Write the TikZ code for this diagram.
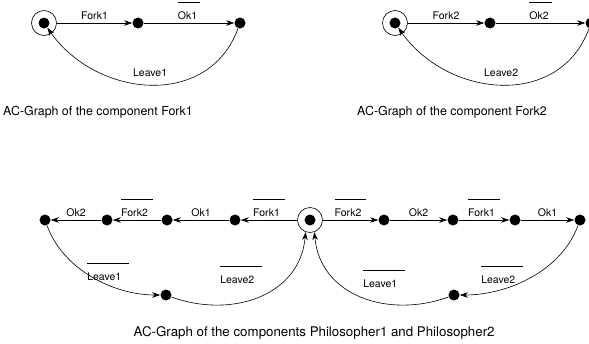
\documentclass[tikz,border=0pt]{standalone}
\usepackage{fontspec}
\setmainfont{TeX Gyre Heros}
\usetikzlibrary{arrows.meta, positioning}
\tikzset{
  >={Stealth[length=8pt,width=5.5pt,inset=2.5pt]}, % arrow heads
  dot/.style={circle, fill, inner sep=0pt, minimum size=11pt}, % a state
  ring/.style={circle, draw, inner sep=0pt, minimum size=25pt}, % marks the
  % initial state
  lbl/.style={font=\fontsize{10.5}{12}\selectfont, inner sep=3.5pt},
  caption/.style={font=\fontsize{12.4}{14}\selectfont, anchor=base},
}
% overlined action name
\newcommand{\dual}[2][5pt]{\setbox0=\hbox{#2}\vbox{\hrule height .6pt width
    \dimexpr\wd0+#1\relax\kern8.5pt\box0}}

\begin{document}
\begin{tikzpicture}[x=1pt,y=-1pt,line width=.6pt]
  \useasboundingbox (0,0) rectangle (589,343);

  % component Fork1
  \node[dot] (fa) at (44,23) {};
  \node[ring] (far) at (fa) {};
  \node[dot] (fb) at (138,23) {};
  \node[dot] (fc) at (240,23) {};
  \draw[->]
  (far) edge node[lbl, above] {Fork1} (fb)
  (fb) edge node[lbl, above] {\dual[3pt]{Ok1}} (fc)
  (fc) edge[out=-110, in=-55, looseness=1.15] node[lbl, above=4pt] {Leave1} (fa)
  ;
  \node[caption] (capa) at (98,115) {AC-Graph of the component Fork1};

  % component Fork2
  \node[dot] (ga) at (395,23) {};
  \node[ring] (gar) at (ga) {};
  \node[dot] (gb) at (490,23) {};
  \node[dot] (gc) at (591,23) {};
  \draw[->]
  (gar) edge node[lbl, above] {Fork2} (gb)
  (gb) edge node[lbl, above] {\dual[3pt]{Ok2}} (gc)
  (gc) edge[out=-110, in=-55, looseness=1.15] node[lbl, above=4pt] {Leave2} (ga)
  ;
  \node[caption] (capb) at (452,115) {AC-Graph of the component Fork2};

  % components Philosopher1 and Philosopher2
  \node[dot] (c) at (310,220) {};
  \node[ring] (cr) at (c) {};
  \node[dot] (l1) at (235,220) {};
  \node[dot] (l2) at (167,220) {};
  \node[dot] (l3) at (107,220) {};
  \node[dot] (l4) at (45,220) {};
  \node[dot] (lb) at (166,295) {};
  \node[dot] (r1) at (384,220) {};
  \node[dot] (r2) at (453,220) {};
  \node[dot] (r3) at (515,220) {};
  \node[dot] (r4) at (580,220) {};
  \node[dot] (rb) at (454,295) {};

  \draw[->]
  (cr) edge node[lbl, above] {\dual{Fork1}} (l1)
  (l1) edge node[lbl, above] {Ok1} (l2)
  (l2) edge node[lbl, above] {\dual{Fork2}} (l3)
  (l3) edge node[lbl, above] {Ok2} (l4)
  (l4) edge[out=-70, in=180, looseness=.9] (lb)
  (lb) edge[out=-20, in=-95, looseness=1.1] (cr.-110)
  (cr) edge node[lbl, above] {\dual{Fork2}} (r1)
  (r1) edge node[lbl, above] {Ok2} (r2)
  (r2) edge node[lbl, above] {\dual{Fork1}} (r3)
  (r3) edge node[lbl, above] {Ok1} (r4)
  (r4) edge[out=-110, in=0, looseness=.9] (rb)
  (rb) edge[out=200, in=-85, looseness=1.1] (cr.-70)
  ;
  \node[lbl, anchor=base west, inner sep=0pt] (lvl) at (87,280) {\dual[8pt]{Leave1}};
  \node[lbl, anchor=base west, inner sep=0pt] (lvm) at (220,283) {\dual[8pt]{Leave2}};
  \node[lbl, anchor=base west, inner sep=0pt] (lvn) at (363,287) {\dual[8pt]{Leave1}};
  \node[lbl, anchor=base west, inner sep=0pt] (lvr) at (481,283) {\dual[8pt]{Leave2}};
  \node[caption, anchor=base west, font=\fontsize{13.3}{15}\selectfont] (capc)
  at (130,336) {AC-Graph of the components Philosopher1 and Philosopher2};
\end{tikzpicture}
\end{document}
